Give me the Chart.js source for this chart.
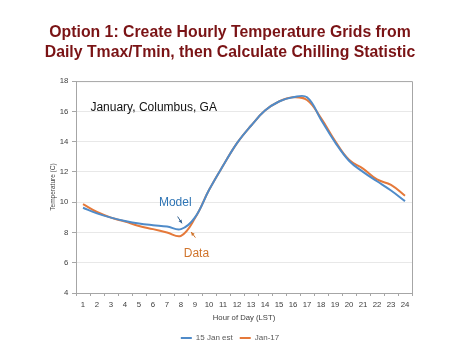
<!DOCTYPE html>
<html>
<head>
<meta charset="utf-8">
<script src="https://cdn.jsdelivr.net/npm/chart.js@4"></script>
<style>
  html,body{margin:0;padding:0;background:#fff;}
  #wrap{width:474px;height:355px;}
</style>
</head>
<body>
<div id="wrap"><canvas id="c" width="474" height="355"></canvas></div>
<script>
const hours = ['1','2','3','4','5','6','7','8','9','10','11','12','13','14','15','16','17','18','19','20','21','22','23','24'];
const modelTemps = [9.63, 9.26, 8.98, 8.76, 8.59, 8.48, 8.39, 8.22, 9.0, 10.8, 12.4, 13.9, 15.05, 16.05, 16.65, 16.93, 16.93, 15.45, 13.97, 12.74, 12.0, 11.38, 10.77, 10.07];
const dataTemps  = [9.87, 9.35, 8.98, 8.72, 8.43, 8.22, 8.0, 7.78, 8.95, 10.8, 12.4, 13.9, 15.05, 16.05, 16.65, 16.93, 16.75, 15.55, 14.05, 12.8, 12.22, 11.5, 11.14, 10.42];
const seriesNames = ['15 Jan est', 'Jan-17'];
const yTicks = [4, 6, 8, 10, 12, 14, 16, 18];
const titleLines = ['Option 1: Create Hourly Temperature Grids from', 'Daily Tmax/Tmin, then Calculate Chilling Statistic'];

const BLUE = '#4F8BC9', ORANGE = '#E5793A';

const notes = {
  id: 'notes',
  afterDatasetsDraw(chart) {
    const {ctx, scales: {x, y}, chartArea: a} = chart;
    const P = (i, v) => [x.getPixelForValue(i), y.getPixelForValue(v)];
    ctx.save();
    ctx.strokeStyle = '#A6A6A6'; ctx.lineWidth = 1;
    ctx.beginPath();
    ctx.moveTo(a.left, a.top + 0.5); ctx.lineTo(a.right + 0.5, a.top + 0.5); ctx.lineTo(a.right + 0.5, a.bottom);
    ctx.stroke();
    ctx.textBaseline = 'middle';
    ctx.font = '12px "Liberation Sans", Arial, sans-serif';
    ctx.fillStyle = '#111';
    ctx.textAlign = 'left';
    let p = P(0.53, 16.26); ctx.fillText('January, Columbus, GA', p[0], p[1]);
    ctx.textAlign = 'center';
    ctx.fillStyle = '#2F75B5';
    p = P(6.59, 9.97); ctx.fillText('Model', p[0], p[1]);
    ctx.fillStyle = '#D0742C';
    p = P(8.1, 6.63); ctx.fillText('Data', p[0], p[1]);
    const arrow = (from, to, col) => {
      const [x1, y1] = P(from[0], from[1]); const [x2, y2] = P(to[0], to[1]);
      ctx.strokeStyle = col; ctx.fillStyle = col; ctx.lineWidth = 1;
      ctx.beginPath(); ctx.moveTo(x1, y1); ctx.lineTo(x2, y2); ctx.stroke();
      const ang = Math.atan2(y2 - y1, x2 - x1), L = 4;
      ctx.beginPath();
      ctx.moveTo(x2, y2);
      ctx.lineTo(x2 - L * Math.cos(ang - 0.45), y2 - L * Math.sin(ang - 0.45));
      ctx.lineTo(x2 - L * Math.cos(ang + 0.45), y2 - L * Math.sin(ang + 0.45));
      ctx.closePath(); ctx.fill();
    };
    arrow([6.76, 9.05], [7.07, 8.6], '#2F5F8F');
    arrow([8.03, 7.66], [7.72, 8.03], '#D0742C');
    ctx.restore();
  }
};

new Chart(document.getElementById('c'), {
  type: 'line',
  data: {
    labels: hours,
    datasets: [
      {label: seriesNames[0], data: modelTemps, borderColor: BLUE, backgroundColor: BLUE, borderWidth: 2, pointRadius: 0, tension: 0.4, yAxisID: 'y'},
      {label: seriesNames[1], data: dataTemps, borderColor: ORANGE, backgroundColor: ORANGE, borderWidth: 2, pointRadius: 0, tension: 0.4, yAxisID: 'y'}
    ]
  },
  options: {
    responsive: false,
    animation: false,
    devicePixelRatio: 1,
    layout: {padding: {left: 10, right: 24, top: 0, bottom: 3}},
    plugins: {
      title: {
        display: true,
        text: titleLines,
        color: '#7A1315',
        font: {family: '"Liberation Sans", Arial, sans-serif', size: 15.8, weight: 'bold', lineHeight: 1.3},
        padding: {top: 22, bottom: 18}
      },
      legend: {
        position: 'bottom',
        labels: {
          boxWidth: 11, boxHeight: 2, padding: 7, color: '#595959',
          font: {family: '"Liberation Sans", Arial, sans-serif', size: 8},
          generateLabels: (chart) => Chart.defaults.plugins.legend.labels.generateLabels(chart).map(l => ({...l, lineWidth: 0}))
        }
      },
      tooltip: {enabled: false}
    },
    scales: {
      x: {
        type: 'category',
        offset: true,
        afterFit: (s) => { s.height = 34; },
        grid: {display: true, drawOnChartArea: false, drawTicks: true, tickLength: 3, offset: true, color: '#A6A6A6'},
        border: {display: true, color: '#A6A6A6'},
        ticks: {color: '#404040', padding: 4, maxRotation: 0, autoSkip: false, font: {family: '"Liberation Sans", Arial, sans-serif', size: 7.8}},
        title: {display: true, text: 'Hour of Day (LST)', color: '#404040', padding: {top: 0, bottom: 4.7}, font: {family: '"Liberation Sans", Arial, sans-serif', size: 7.7}}
      },
      y: {
        position: 'left',
        min: 4, max: 18,
        afterFit: (s) => { s.width = 66; },
        afterBuildTicks: (s) => { s.ticks = yTicks.map(v => ({value: v})); },
        grid: {color: '#E8E8E8', drawTicks: true, tickLength: 4, tickColor: '#A6A6A6'},
        border: {display: true, color: '#A6A6A6'},
        ticks: {color: '#404040', padding: 3.7, font: {family: '"Liberation Sans", Arial, sans-serif', size: 7.8}},
        title: {display: true, text: 'Temperature (C)', color: '#404040', padding: {top: 39, bottom: 0}, font: {family: '"Liberation Sans", Arial, sans-serif', size: 6.5}}
      },
      y2: {
        position: 'right',
        display: true,
        afterFit: (s) => { s.width = 38; },
        grid: {display: false},
        border: {display: false},
        ticks: {display: false}
      }
    }
  },
  plugins: [notes]
});
</script>
</body>
</html>
